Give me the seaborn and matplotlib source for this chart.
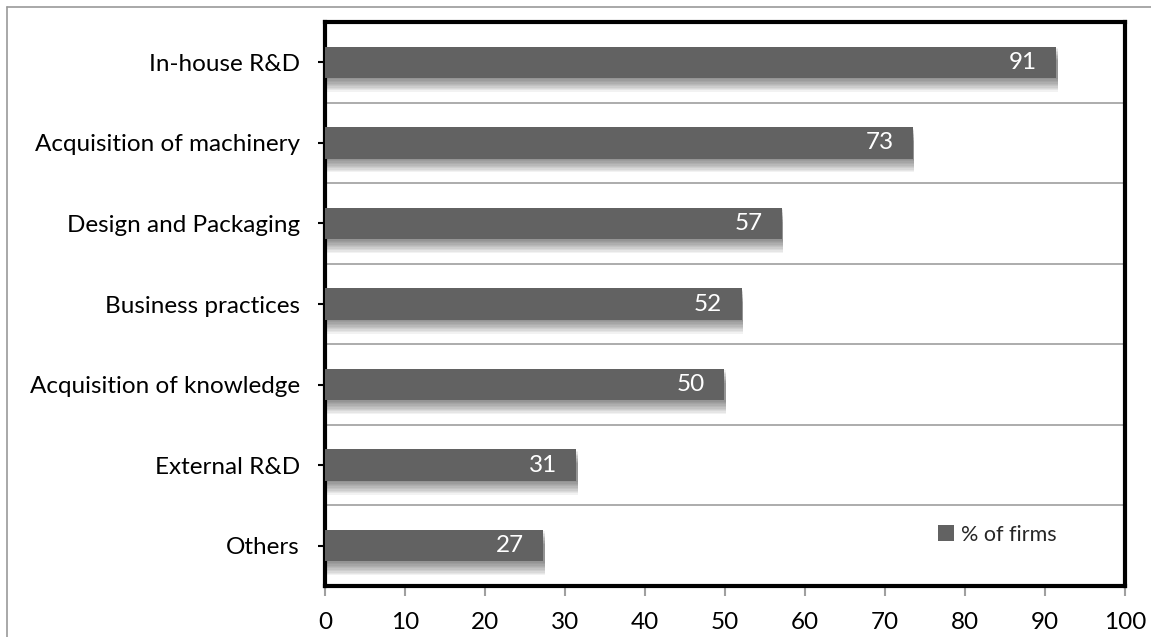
import numpy as np
import pandas as pd
import matplotlib
matplotlib.use("Agg")
import matplotlib.pyplot as plt
import matplotlib.patheffects as pe
from matplotlib.lines import Line2D
from matplotlib.patches import Patch
import seaborn as sns

categories = ["In-house R&D", "Acquisition of machinery", "Design and Packaging",
              "Business practices", "Acquisition of knowledge", "External R&D", "Others"]
values = [91.4, 73.5, 57.1, 52.1, 49.9, 31.4, 27.3]
value_labels = ["91", "73", "57", "52", "50", "31", "27"]
series_name = "% of firms"
x_ticks = [0, 10, 20, 30, 40, 50, 60, 70, 80, 90, 100]

sns.set_theme(style="white")
plt.rcParams["font.family"] = ["Lato", "DejaVu Sans"]

df = pd.DataFrame({"category": categories, "value": values})

fig = plt.figure(figsize=(11.51, 6.37), dpi=100)
ax = fig.add_axes([325/1151, 1-586/637, 800/1151, (586-22)/637])

bar_color = "#626262"
sns.barplot(data=df, y="category", x="value", color=bar_color, orient="h",
            width=0.39, ax=ax, saturation=1, linewidth=0, zorder=3)

# soft drop shadow under bars
shadow = [pe.SimplePatchShadow(offset=(1.0, -k), shadow_rgbFace="#000000", alpha=0.05)
          for k in np.arange(1, 11, 1.0)] + [pe.Normal()]
for p in ax.patches:
    p.set_linewidth(0)
    p.set_path_effects(shadow)

ax.set_xlim(0, 100)
ax.set_ylim(len(categories) - 0.5, -0.5)
ax.set_xticks(x_ticks)
ax.set_xticklabels([str(t) for t in x_ticks])
ax.set_xlabel("")
ax.set_ylabel("")

# gridlines between categories
ax.set_yticks(np.arange(len(categories)) - 0.5, minor=True)
ax.grid(False)
ax.grid(True, axis="y", which="minor", color="#a6a6a6", linewidth=1.3, zorder=1)
ax.set_axisbelow(True)

for s in ax.spines.values():
    s.set_visible(True)
    s.set_color("black")
    s.set_linewidth(3.0)

ax.tick_params(axis="y", which="major", direction="out", length=5, width=1.5,
               color="black", labelsize=17.5, pad=13, left=True)
ax.tick_params(axis="y", which="minor", length=0)
ax.tick_params(axis="x", which="major", direction="out", length=7, width=1.5,
               color="#a0a0a0", labelsize=17.5, pad=12, bottom=True)
for lbl in ax.get_yticklabels() + ax.get_xticklabels():
    lbl.set_color("black")

# value labels
for i, (v, t) in enumerate(zip(values, value_labels)):
    ax.annotate(t, xy=(v, i), xytext=(-14, 0), textcoords="offset points",
                ha="right", va="center", color="white", fontsize=17.5, zorder=5)

handle = Patch(facecolor=bar_color, edgecolor="none")
ax.legend([handle], [series_name], loc="lower right", bbox_to_anchor=(0.925, 0.058),
          frameon=False, fontsize=15.5, handlelength=0.75, handleheight=0.75,
          handletextpad=0.3, borderaxespad=0)

# outer chart frame
fig.add_artist(Line2D([7/1151, 1.0], [1-7/637, 1-7/637], color="#9a9a9a", lw=1.2,
                      transform=fig.transFigure))
fig.add_artist(Line2D([7/1151, 7/1151], [0, 1-7/637], color="#9a9a9a", lw=1.2,
                      transform=fig.transFigure))

fig.savefig("out.png", dpi=100)
